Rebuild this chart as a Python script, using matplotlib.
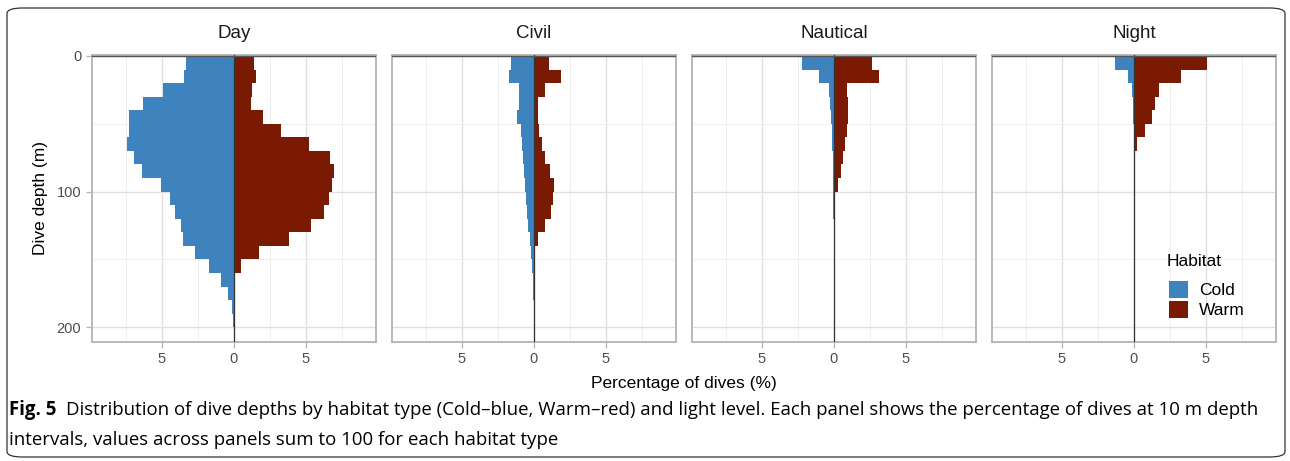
import matplotlib
matplotlib.use("Agg")
import matplotlib.pyplot as plt
from matplotlib.patches import FancyBboxPatch, Patch
import numpy as np

# Глубины (начало 10-метровых интервалов)
depth_bins = [0, 10, 20, 30, 40, 50, 60, 70, 80, 90, 100,
              110, 120, 130, 140, 150, 160, 170, 180, 190, 200]

panels = ["Day", "Civil", "Nautical", "Night"]

# Процент погружений, Cold (синий)
day_cold = [3.33, 3.47, 4.91, 6.30, 7.29, 7.29, 7.41, 6.92, 6.39, 5.07, 4.44,
            4.07, 3.70, 3.56, 2.71, 1.74, 0.86, 0.42, 0.16, 0.07, 0.02]
civil_cold = [1.62, 1.71, 1.02, 1.02, 1.16, 0.88, 0.79, 0.72, 0.67, 0.63, 0.58,
              0.51, 0.39, 0.30, 0.19, 0.12, 0.07, 0.03, 0.0, 0.0, 0.0]
nautical_cold = [2.18, 1.02, 0.37, 0.30, 0.23, 0.16, 0.12, 0.09, 0.07, 0.05, 0.04,
                 0.03, 0.0, 0.0, 0.0, 0.0, 0.0, 0.0, 0.0, 0.0, 0.0]
night_cold = [1.30, 0.39, 0.14, 0.05, 0.03, 0.0, 0.0, 0.0, 0.0, 0.0, 0.0,
              0.0, 0.0, 0.0, 0.0, 0.0, 0.0, 0.0, 0.0, 0.0, 0.0]

# Процент погружений, Warm (красный)
day_warm = [1.39, 1.57, 1.23, 1.16, 2.04, 3.31, 5.21, 6.67, 6.99, 6.83, 6.62,
            6.27, 5.39, 3.82, 1.74, 0.51, 0.02, 0.0, 0.0, 0.0, 0.0]
civil_warm = [1.06, 1.90, 0.79, 0.32, 0.30, 0.37, 0.56, 0.79, 1.13, 1.39, 1.34,
              1.18, 0.76, 0.28, 0.0, 0.0, 0.0, 0.0, 0.0, 0.0, 0.0]
nautical_warm = [2.66, 3.17, 0.90, 0.95, 0.95, 0.88, 0.76, 0.67, 0.49, 0.28, 0.09,
                 0.03, 0.0, 0.0, 0.0, 0.0, 0.0, 0.0, 0.0, 0.0, 0.0]
night_warm = [5.07, 3.26, 1.76, 1.50, 1.27, 0.76, 0.21, 0.0, 0.0, 0.0, 0.0,
              0.0, 0.0, 0.0, 0.0, 0.0, 0.0, 0.0, 0.0, 0.0, 0.0]

cold_all = [day_cold, civil_cold, nautical_cold, night_cold]
warm_all = [day_warm, civil_warm, nautical_warm, night_warm]

COLD = "#3e83bd"
WARM = "#7b1a02"
GRID = "#e0e0e0"
BORDER = "#b3b3b3"
TICKC = "#4d4d4d"

plt.rcParams["font.family"] = ["Liberation Sans", "DejaVu Sans"]

fig = plt.figure(figsize=(12.9, 4.61), dpi=100)

# Рамка вокруг рисунка
frame = FancyBboxPatch((7 / 1290, 4 / 461), 1278 / 1290, 449 / 461,
                       boxstyle="round,pad=0,rounding_size=0.012",
                       transform=fig.transFigure, fill=False,
                       edgecolor="#333333", linewidth=0.9, zorder=0)
fig.patches.append(frame)

W, H = 1290.0, 461.0
left0 = 91.7
pw = 284.3
gap = 15.7
top = 55.0
bottom = 341.7

axes = []
for i, name in enumerate(panels):
    x0 = left0 + i * (pw + gap)
    ax = fig.add_axes([x0 / W, 1 - bottom / H, pw / W, (bottom - top) / H])
    axes.append(ax)

    cold = np.array(cold_all[i])
    warm = np.array(warm_all[i])
    ax.barh(depth_bins, -cold, height=10, align="edge", color=COLD, linewidth=0, zorder=2)
    ax.barh(depth_bins, warm, height=10, align="edge", color=WARM, linewidth=0, zorder=2)
    ax.axvline(0, color="#333333", linewidth=0.9, zorder=3)
    ax.axhline(0, color="#555555", linewidth=1.0, zorder=3)

    ax.set_xlim(-9.88, 9.88)
    ax.set_ylim(210.7, -0.7)
    ax.set_xticks([-5, 0, 5])
    ax.set_xticklabels(["5", "0", "5"])
    ax.set_xticks([-7.5, -2.5, 2.5, 7.5], minor=True)
    ax.set_yticks([0, 100, 200])
    ax.set_yticks([50, 150], minor=True)
    ax.grid(True, which="major", color=GRID, linewidth=1.0, zorder=0)
    ax.grid(True, which="minor", color="#ececec", linewidth=0.6, zorder=0)
    ax.set_axisbelow(True)
    for s in ax.spines.values():
        s.set_color(BORDER)
        s.set_linewidth(1.3)
    ax.tick_params(which="major", length=4, color=BORDER, labelcolor=TICKC,
                   labelsize=10.5, width=0.9)
    ax.tick_params(which="minor", length=0)
    if i > 0:
        ax.tick_params(axis="y", which="major", left=False, labelleft=False)
    ax.set_title(name, fontsize=13.5, pad=12, color="#1a1a1a")

axes[0].set_ylabel("Dive depth (m)", fontsize=12.5, labelpad=6)
fig.text((left0 + (left0 + 3 * (pw + gap) + pw)) / 2 / W, 1 - 383 / H,
         "Percentage of dives (%)", ha="center", va="center", fontsize=12.5)

# Легенда внутри панели Night
handles = [Patch(facecolor=COLD, label="Cold"), Patch(facecolor=WARM, label="Warm")]
fig.text(1167 / W, 1 - 262 / H, "Habitat", fontsize=12.5, ha="left", va="center")
leg = fig.legend(handles=handles, loc="upper left",
                 bbox_to_anchor=(1169 / W, 1 - 281 / H), frameon=False,
                 fontsize=12.5, handlelength=1.1, handleheight=1.1,
                 handletextpad=0.65, labelspacing=0.17, borderpad=0,
                 borderaxespad=0)

# Подпись к рисунку
cap_font = ["Open Sans", "DejaVu Sans"]
cap_size = 13.4
t1 = fig.text(9 / W, 1 - 410 / H, "Fig. 5", fontsize=cap_size, fontweight="bold",
              family=cap_font, va="center", ha="left")
fig.canvas.draw()
bb = t1.get_window_extent()
x_after = (bb.x1 + 10) / W
fig.text(x_after, 1 - 410 / H,
         "Distribution of dive depths by habitat type (Cold\u2013blue, Warm\u2013red) and light level. "
         "Each panel shows the percentage of dives at 10 m depth",
         fontsize=cap_size, family=cap_font, va="center", ha="left")
fig.text(9 / W, 1 - 440 / H,
         "intervals, values across panels sum to 100 for each habitat type",
         fontsize=cap_size, family=cap_font, va="center", ha="left")

fig.savefig("out.png", dpi=100)
